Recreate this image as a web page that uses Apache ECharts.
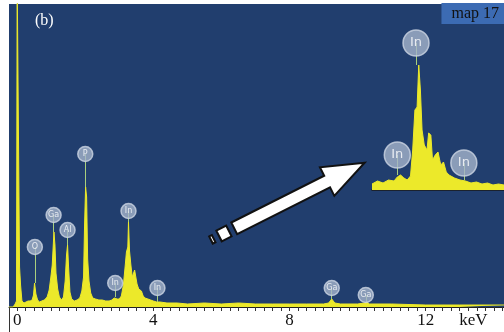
<!DOCTYPE html>
<html>
<head>
<meta charset="utf-8">
<script src="https://cdn.jsdelivr.net/npm/echarts@6.0.0/dist/echarts.min.js"></script>
<style>
  html, body { margin: 0; padding: 0; background: #fff; }
  #eds { width: 504px; height: 332px; }
</style>
</head>
<body>
<div id="eds"></div>
<script>
// EDS spectrum, [energy keV, counts (arb.)]
var spectrumMain = [
    [-0.24, 0], [-0.12, 0], [-0.06, 3], [-0.02, 6], [0.0, 330], [0.04, 330], [0.07, 40], [0.1, 22],
    [0.14, 6], [0.2, 4], [0.26, 5], [0.32, 6], [0.38, 6], [0.44, 7], [0.48, 12], [0.51, 24],
    [0.55, 13], [0.6, 7], [0.66, 5], [0.72, 6], [0.8, 7], [0.88, 10], [0.94, 17], [0.99, 30],
    [1.03, 42], [1.06, 44], [1.08, 75], [1.11, 62], [1.14, 34], [1.19, 18], [1.24, 10], [1.3, 7],
    [1.36, 10], [1.41, 26], [1.45, 52], [1.48, 62], [1.51, 40], [1.55, 15], [1.6, 8], [1.68, 6],
    [1.76, 7], [1.84, 9], [1.9, 16], [1.95, 30], [1.98, 82], [2.01, 120], [2.04, 110], [2.07, 48],
    [2.11, 26], [2.16, 14], [2.22, 9], [2.3, 8], [2.4, 7], [2.5, 7], [2.6, 6], [2.7, 6],
    [2.78, 7], [2.85, 9], [2.89, 10], [2.94, 8], [3.0, 8], [3.06, 11], [3.12, 22], [3.17, 40],
    [3.21, 55], [3.25, 60], [3.27, 85], [3.3, 56], [3.34, 42], [3.38, 30], [3.42, 32], [3.45, 37],
    [3.49, 36], [3.52, 23], [3.57, 18], [3.61, 19], [3.65, 16], [3.7, 11], [3.76, 9], [3.84, 8],
    [3.92, 7], [4.0, 6], [4.1, 5], [4.2, 5], [4.4, 4], [4.7, 4], [5.0, 3], [5.5, 4],
    [6.0, 3], [6.5, 4], [7.0, 3], [7.5, 3], [8.0, 3], [8.5, 3], [9.0, 3], [9.15, 4],
    [9.24, 8], [9.33, 4], [9.5, 3], [10.0, 3], [10.2, 4], [10.27, 5], [10.35, 3], [11.0, 3],
    [12.0, 2], [13.0, 2], [14.3, 2]
];

// zoomed In L region shown top right
var spectrumInset = [
    [2.4, 6], [2.5, 9], [2.6, 7], [2.7, 10], [2.8, 9], [2.86, 13], [2.92, 15], [2.98, 12],
    [3.04, 10], [3.1, 14], [3.14, 40], [3.18, 80], [3.22, 83], [3.25, 125], [3.28, 100], [3.31, 60],
    [3.35, 45], [3.4, 40], [3.43, 57], [3.47, 55], [3.5, 30], [3.55, 35], [3.6, 38], [3.65, 25],
    [3.7, 28], [3.75, 18], [3.8, 15], [3.9, 12], [4.0, 10], [4.1, 9], [4.2, 7], [4.3, 8],
    [4.4, 6], [4.5, 7], [4.6, 5], [4.7, 6], [4.8, 5]
];

// element markers: [energy, label height, peak height, name]
var markersMain = [
    [0.52, 60, 24, 'O'],
    [1.07, 92, 75, 'Ga'],
    [1.48, 77, 62, 'Al'],
    [2.0, 153, 120, 'P'],
    [2.88, 24, 10, 'In'],
    [3.27, 96, 85, 'In'],
    [4.12, 19, 5, 'In'],
    [9.24, 19, 8, 'Ga'],
    [10.24, 12, 5, 'Ga']
];
var markersInset = [
    [2.86, 35, 15, 'In'],
    [3.2, 147, 125, 'In'],
    [4.07, 27, 10, 'In']
];

var axisLabels = [0, 4, 8, 12];
var unitLabelAt = 13.4;

var blue = '#213e6e';
var yellow = '#ece92a';

var tickValues = [];
for (var t = 0; t <= 14.25; t += 0.25) tickValues.push(t);

function markerSeries(list, xi, yi, size, fontSize) {
    return {
        type: 'scatter',
        xAxisIndex: xi,
        yAxisIndex: yi,
        symbolSize: size,
        clip: false,
        z: 5,
        itemStyle: {color: '#a5b4cb', borderColor: '#cdd6e4', borderWidth: 1.5},
        label: {
            show: true,
            position: 'inside',
            formatter: function (p) { return p.data[2]; },
            color: '#ffffff',
            fontSize: fontSize,
            fontFamily: 'DejaVu Sans'
        },
        data: list.map(function (m) { return [m[0], m[1], m[3]]; }),
        markLine: {
            silent: true,
            symbol: 'none',
            animation: false,
            label: {show: false},
            lineStyle: {color: '#a9cf7e', width: 1, type: 'solid'},
            data: list.map(function (m) {
                return [{coord: [m[0], m[2]]}, {coord: [m[0], m[1]]}];
            })
        }
    };
}

// arrow built along a rotated axis
function rotPts(ox, oy, ang, pts) {
    var c = Math.cos(ang), s = Math.sin(ang);
    return pts.map(function (p) {
        return [ox + p[0] * c + p[1] * s, oy - p[0] * s + p[1] * c];
    });
}
var ax = 211, ay = 240, ang = Math.atan2(77, 153);
var arrowStyle = {fill: '#ffffff', stroke: '#111111', lineWidth: 2};
var arrowParts = [
    [[0, -4], [3, -4], [3, 4], [0, 4]],
    [[9, -6], [20, -6], [20, 6], [9, 6]],
    [[26, -6.5], [130, -6.5], [130, -16], [172, 0], [130, 16], [130, 6.5], [26, 6.5]]
];

var chart = echarts.init(document.getElementById('eds'));
var option = {
    animation: false,
    backgroundColor: '#ffffff',
    title: [
        {
            text: '(b)', left: 30, top: 8,
            textStyle: {color: '#ffffff', fontFamily: 'Liberation Serif', fontSize: 16, fontWeight: 'normal'}
        },
        {
            text: 'map 17', right: 0, top: 3,
            backgroundColor: '#3c6bb3',
            padding: [3, 5, 2, 10],
            textStyle: {color: '#111111', fontFamily: 'Liberation Serif', fontSize: 16, fontWeight: 'normal'}
        }
    ],
    grid: [
        {left: 9, right: 0, top: 4, height: 303, show: true, backgroundColor: blue, borderWidth: 0},
        {left: 372, width: 132, top: 30, height: 160, show: false}
    ],
    xAxis: [
        {
            type: 'value', gridIndex: 0, min: -0.24, max: 14.3,
            axisLine: {show: true, onZero: false, lineStyle: {color: '#222', width: 1}},
            axisTick: {show: true, customValues: tickValues, length: 4, lineStyle: {color: '#333'}},
            axisLabel: {
                customValues: axisLabels.concat([unitLabelAt]),
                formatter: function (v) { return v === unitLabelAt ? 'keV' : String(v); },
                color: '#111', fontFamily: 'Liberation Serif', fontSize: 17, margin: 5
            },
            splitLine: {show: false}
        },
        {
            type: 'value', gridIndex: 1, min: 2.4, max: 4.8,
            axisLine: {show: true, onZero: false, lineStyle: {color: '#1a1a1a', width: 1.5}},
            axisTick: {show: false}, axisLabel: {show: false}, splitLine: {show: false}
        }
    ],
    yAxis: [
        {
            type: 'value', gridIndex: 0, min: 0, max: 303,
            axisLine: {show: true, lineStyle: {color: '#333', width: 1}},
            axisTick: {show: false}, axisLabel: {show: false}, splitLine: {show: false}
        },
        {
            type: 'value', gridIndex: 1, min: 0, max: 160, show: false
        }
    ],
    series: [
        {
            type: 'line', xAxisIndex: 0, yAxisIndex: 0,
            data: spectrumMain, showSymbol: false, clip: true,
            lineStyle: {color: yellow, width: 1},
            areaStyle: {color: yellow, opacity: 1}
        },
        {
            type: 'line', xAxisIndex: 1, yAxisIndex: 1,
            data: spectrumInset, showSymbol: false,
            lineStyle: {color: yellow, width: 1},
            areaStyle: {color: yellow, opacity: 1}
        },
        markerSeries(markersMain, 0, 0, 15, 8),
        markerSeries(markersInset, 1, 1, 26, 13)
    ],
    graphic: [
        {type: 'line', shape: {x1: 9.5, y1: 307, x2: 9.5, y2: 332}, style: {stroke: '#333', lineWidth: 1}}
    ].concat(arrowParts.map(function (pts) {
        return {type: 'polygon', z: 100, shape: {points: rotPts(ax, ay, ang, pts)}, style: arrowStyle};
    }))
};
chart.setOption(option);
</script>
</body>
</html>
